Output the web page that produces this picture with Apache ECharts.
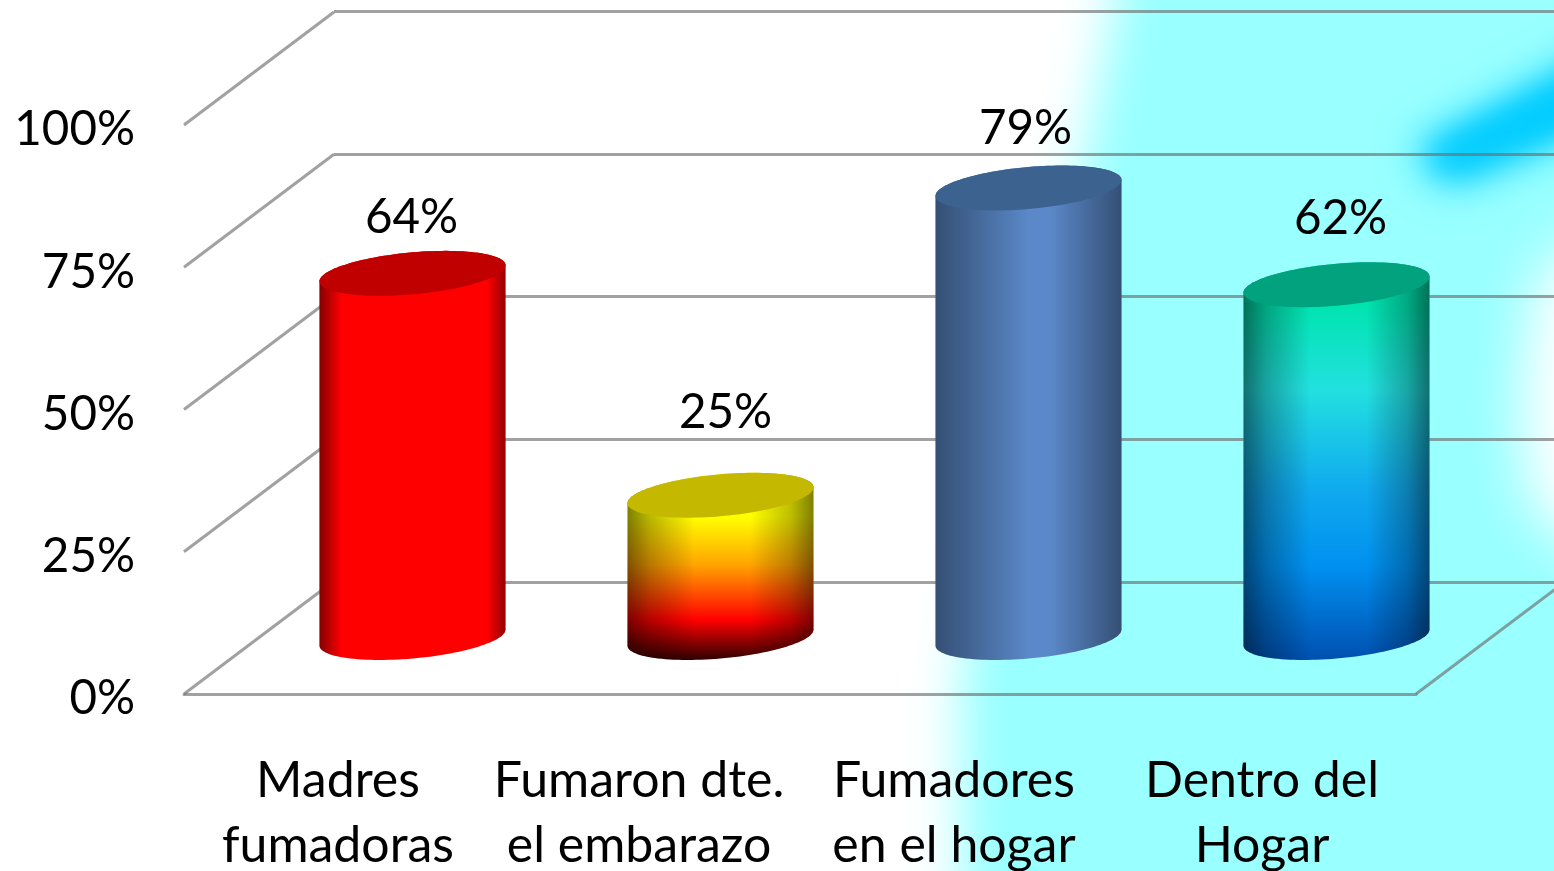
<!DOCTYPE html>
<html>
<head>
<meta charset="utf-8">
<style>html,body{margin:0;padding:0;background:#fff;overflow:hidden}#c{width:1554px;height:871px}</style>
<script src="https://cdn.jsdelivr.net/npm/echarts@6/dist/echarts.min.js"></script>
</head>
<body>
<div id="c"></div>
<script>
const categories = ['Madres\nfumadoras', 'Fumaron dte.\nel embarazo', 'Fumadores\nen el hogar', 'Dentro del\nHogar'];
const values = [64, 25, 79, 62];
const valueLabels = ['64%', '25%', '79%', '62%'];
const axisTicks = [0, 25, 50, 75, 100];

const FONT = 'Lato';
const GRID_GRAY = 'rgba(110,110,110,0.65)';
const DEPTH = [150, -113];
const BAR_SHIFT = [74.5, -56.5];
const RX = 93, RY = 21, SKEW = 8;
const LABEL_NUDGE = [[-1, -56], [5, -83], [-3, -59], [4, -66]];

function grad(horizontal, stops) {
  return new echarts.graphic.LinearGradient(0, 0, horizontal ? 1 : 0, horizontal ? 0 : 1,
    stops.map(s => ({ offset: s[0], color: s[1] })));
}
const EDGE_NARROW = grad(true, [[0, 'rgba(0,0,0,0.48)'], [0.12, 'rgba(0,0,0,0)'], [0.9, 'rgba(0,0,0,0)'], [1, 'rgba(0,0,0,0.42)']]);
const EDGE_WIDE = grad(true, [[0, 'rgba(0,0,0,0.5)'], [0.12, 'rgba(0,0,0,0.28)'], [0.36, 'rgba(0,0,0,0)'], [0.66, 'rgba(0,0,0,0)'], [0.88, 'rgba(0,0,0,0.26)'], [1, 'rgba(0,0,0,0.5)']]);
const BAR_STYLES = [
  { top: '#c00000', body: '#ff0000', edge: EDGE_NARROW },
  { top: '#c4b800', body: grad(false, [[0, '#ffff00'], [0.235, '#ffff00'], [0.49, '#ffa500'], [0.786, '#ff0000'], [1, '#300000']]), edge: EDGE_WIDE },
  { top: '#3c6290', body: '#5a88c8', edge: grad(true, [[0, 'rgba(0,0,0,0.42)'], [0.5, 'rgba(0,0,0,0)'], [0.62, 'rgba(0,0,0,0)'], [1, 'rgba(0,0,0,0.42)']]) },
  { top: '#03a27e', body: grad(false, [[0, '#00e4b0'], [0.11, '#00e4b0'], [0.32, '#22e0e0'], [0.57, '#10aaee'], [0.766, '#0090f0'], [1, '#0050b0']]), edge: EDGE_WIDE }
];

function ellipsePts(cx, cy, from, to, n) {
  const pts = [];
  for (let i = 0; i <= n; i++) {
    const t = from + (to - from) * i / n;
    pts.push([cx + RX * Math.cos(t), cy + RY * Math.sin(t) - SKEW * Math.cos(t)]);
  }
  return pts;
}

function renderCylinder(params, api) {
  const idx = api.value(0);
  const base = api.coord([idx, 0]);
  const top = api.coord([idx, api.value(1)]);
  const cx = base[0] + BAR_SHIFT[0];
  const by = base[1] + BAR_SHIFT[1];
  const ty = top[1] + BAR_SHIFT[1];
  const st = BAR_STYLES[idx];
  const body = [[cx - RX, ty + SKEW]].concat(ellipsePts(cx, by, Math.PI, 0, 60), [[cx + RX, ty - SKEW]], ellipsePts(cx, ty, 0, -Math.PI, 60));
  const nudge = LABEL_NUDGE[idx];
  return {
    type: 'group',
    children: [
      { type: 'polygon', shape: { points: body }, style: { fill: st.body } },
      { type: 'polygon', shape: { points: body }, style: { fill: st.edge } },
      { type: 'polygon', shape: { points: ellipsePts(cx, ty, 0, Math.PI * 2, 120) }, style: { fill: st.top } },
      { type: 'text', style: { text: valueLabels[idx], x: cx + nudge[0], y: ty + nudge[1], align: 'center', verticalAlign: 'middle', font: '47.5px ' + FONT, fill: '#000' } }
    ]
  };
}

function renderWall(params, api) {
  const y = api.coord([0, api.value(0)])[1];
  const x = params.coordSys.x;
  return { type: 'line', shape: { x1: x, y1: y, x2: x + DEPTH[0], y2: y + DEPTH[1] }, style: { stroke: GRID_GRAY, lineWidth: 3 } };
}
function renderFloorEdge(params, api) {
  const y = api.coord([0, api.value(0)])[1];
  const x = params.coordSys.x + params.coordSys.width;
  return { type: 'line', shape: { x1: x, y1: y, x2: x + DEPTH[0], y2: y + DEPTH[1] }, style: { stroke: GRID_GRAY, lineWidth: 3 } };
}

const chart = echarts.init(document.getElementById('c'), null, { renderer: 'canvas' });
const OFF = 4000;
const glow = (points, color, blur) => ({
  type: 'polygon', silent: true, z: -5,
  shape: { points: points.map(p => [p[0] - OFF, p[1]]) },
  style: { fill: '#000', shadowBlur: blur, shadowColor: color, shadowOffsetX: OFF }
});
chart.setOption({
  animation: false,
  backgroundColor: '#ffffff',
  graphic: [
    glow([[1135, -100], [1750, -100], [1750, 1000], [962, 1000], [960, 680], [1085, 150]], '#99ffff', 50),
    glow([[1640, 195], [1535, 280], [1520, 400], [1528, 500], [1640, 610]], '#ffffff', 55),
    glow([[1415, 150], [1640, 30], [1640, 105], [1450, 185]], '#00ccff', 45),
    glow([[1425, 152], [1640, 45], [1640, 95], [1450, 175]], '#00ccff', 30)
  ],
  grid: [
    { left: 184, top: 125, width: 1232, height: 569, outerBoundsMode: 'none' },
    { left: 334, top: 11, width: 1220, height: 571, outerBoundsMode: 'none' }
  ],
  xAxis: [
    {
      type: 'category', gridIndex: 0,
      data: categories.map((c, i) => i === 1 ? { value: c, textStyle: { padding: [0, 14, 0, 0] } } : c),
      axisLine: { show: true, lineStyle: { color: GRID_GRAY, width: 3 } },
      axisTick: { show: false },
      axisLabel: { interval: 0, margin: 54, fontFamily: FONT, fontSize: 50, lineHeight: 65, color: '#000', hideOverlap: false }
    },
    { type: 'value', gridIndex: 1, min: 0, max: 1, show: false }
  ],
  yAxis: [
    {
      type: 'value', gridIndex: 0, min: 0, max: 100, interval: 25,
      axisLine: { show: false }, axisTick: { show: false }, splitLine: { show: false },
      axisLabel: { margin: 49, fontFamily: FONT, fontSize: 47.5, color: '#000', formatter: '{value}%', verticalAlign: 'top', lineHeight: 10 }
    },
    {
      type: 'value', gridIndex: 1, min: 0, max: 100, interval: 25,
      axisLine: { show: false }, axisTick: { show: false }, axisLabel: { show: false },
      splitLine: { show: true, lineStyle: { color: GRID_GRAY, width: 3, type: 'solid' } }
    }
  ],
  series: [
    { type: 'custom', name: 'walls', xAxisIndex: 0, yAxisIndex: 0, clip: false, silent: true, z: 1, data: axisTicks.map(v => [v]), encode: { y: 0 }, renderItem: renderWall },
    { type: 'custom', name: 'floor', xAxisIndex: 0, yAxisIndex: 0, clip: false, silent: true, z: 1, data: [[axisTicks[0]]], encode: { y: 0 }, renderItem: renderFloorEdge },
    { type: 'custom', name: 'bars', xAxisIndex: 0, yAxisIndex: 0, clip: false, silent: true, z: 3, data: values.map((v, i) => [i, v]), encode: { x: 0, y: 1 }, renderItem: renderCylinder }
  ]
});
</script>
</body>
</html>
